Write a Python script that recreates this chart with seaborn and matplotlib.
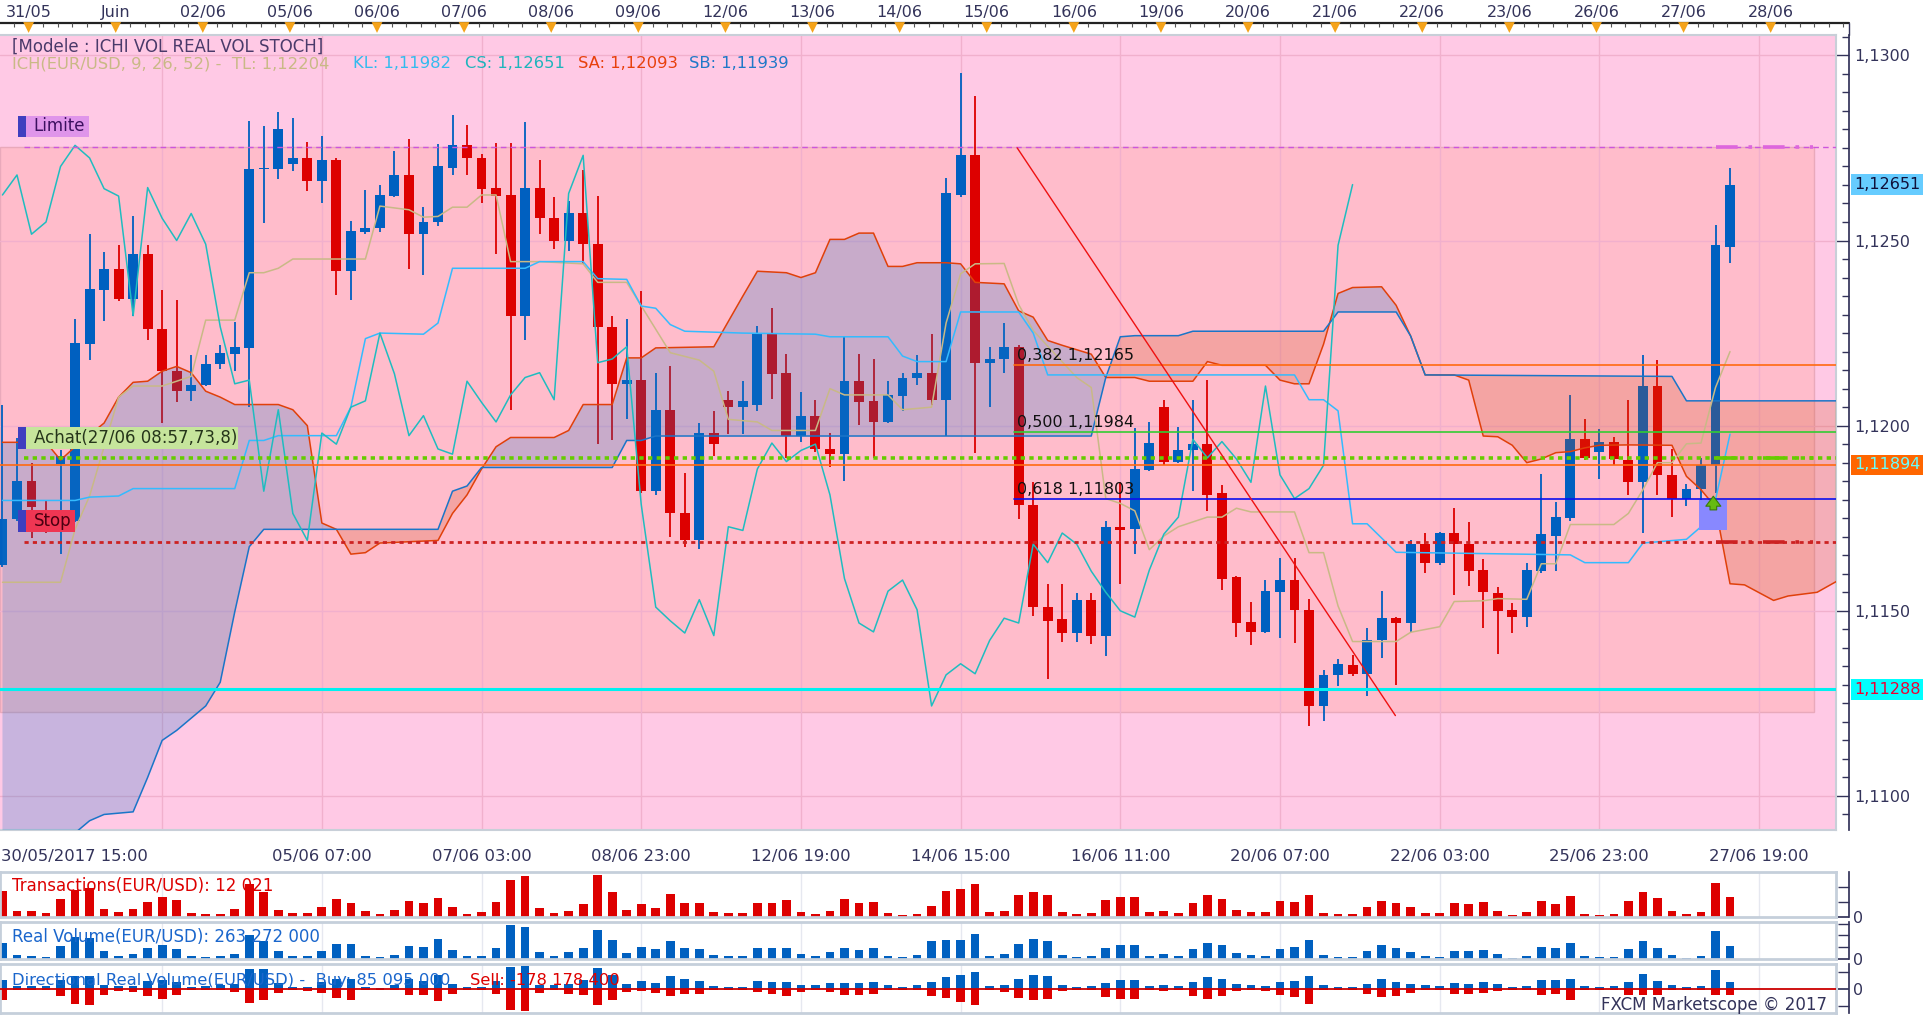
import numpy as np
import matplotlib
matplotlib.use("Agg")
import matplotlib.pyplot as plt
import matplotlib.transforms as mtransforms
from matplotlib.lines import Line2D
from matplotlib.patches import Rectangle
from matplotlib.ticker import MultipleLocator, FuncFormatter, FixedLocator
import seaborn as sns

sns.set_theme(style="white")
plt.rcParams["font.family"] = ["DejaVu Sans"]


# EUR/USD 4h candles, 30/05 15:00 -> 27/06 23:00

opens = [
    1.11623, 1.11747, 1.11850, 1.11720, 1.11897, 1.11743, 1.12220, 1.12367, 1.12423, 1.12343,
    1.12463, 1.12260, 1.12147, 1.12093, 1.12110, 1.12167, 1.12193, 1.12210, 1.12693, 1.12693,
    1.12707, 1.12723, 1.12660, 1.12717, 1.12417, 1.12523, 1.12533, 1.12620, 1.12677, 1.12517,
    1.12550, 1.12697, 1.12757, 1.12723, 1.12643, 1.12623, 1.12297, 1.12643, 1.12560, 1.12500,
    1.12573, 1.12490, 1.12267, 1.12113, 1.12123, 1.11823, 1.12043, 1.11763, 1.11690, 1.11980,
    1.12070, 1.12050, 1.12057, 1.12250, 1.12143, 1.11973, 1.12027, 1.11937, 1.11923, 1.12120,
    1.12067, 1.12010, 1.12080, 1.12130, 1.12143, 1.12070, 1.12623, 1.12730, 1.12170, 1.12180,
    1.12213, 1.11787, 1.11510, 1.11477, 1.11440, 1.11530, 1.11433, 1.11727, 1.11720, 1.11880,
    1.12050, 1.11903, 1.11933, 1.11950, 1.11817, 1.11590, 1.11470, 1.11443, 1.11550, 1.11583,
    1.11503, 1.11243, 1.11327, 1.11353, 1.11330, 1.11420, 1.11480, 1.11467, 1.11680, 1.11630,
    1.11710, 1.11680, 1.11610, 1.11547, 1.11503, 1.11483, 1.11607, 1.11703, 1.11750, 1.11963,
    1.11930, 1.11957, 1.11907, 1.11847, 1.12107, 1.11867, 1.11803, 1.11830, 1.11893, 1.12483,
]
highs = [
    1.12057, 1.11967, 1.11900, 1.11797, 1.11933, 1.12287, 1.12517, 1.12470, 1.12487, 1.12567,
    1.12487, 1.12367, 1.12340, 1.12190, 1.12190, 1.12217, 1.12280, 1.12823, 1.12810, 1.12847,
    1.12830, 1.12767, 1.12783, 1.12723, 1.12553, 1.12637, 1.12650, 1.12743, 1.12773, 1.12590,
    1.12760, 1.12840, 1.12813, 1.12733, 1.12763, 1.12763, 1.12820, 1.12717, 1.12617, 1.12607,
    1.12690, 1.12620, 1.12297, 1.12287, 1.12363, 1.12143, 1.12160, 1.11873, 1.12007, 1.12040,
    1.12093, 1.12120, 1.12270, 1.12317, 1.12193, 1.12090, 1.12070, 1.11980, 1.12243, 1.12193,
    1.12180, 1.12120, 1.12143, 1.12190, 1.12247, 1.12670, 1.12953, 1.12890, 1.12213, 1.12277,
    1.12217, 1.11847, 1.11573, 1.11573, 1.11547, 1.11547, 1.11743, 1.11847, 1.11993, 1.12010,
    1.12070, 1.11997, 1.12070, 1.12123, 1.11840, 1.11593, 1.11523, 1.11583, 1.11643, 1.11643,
    1.11533, 1.11340, 1.11370, 1.11380, 1.11453, 1.11553, 1.11483, 1.11690, 1.11710, 1.11713,
    1.11777, 1.11740, 1.11640, 1.11563, 1.11520, 1.11630, 1.11870, 1.11793, 1.12083, 1.12017,
    1.11990, 1.11970, 1.12070, 1.12190, 1.12177, 1.11937, 1.11843, 1.11913, 1.12543, 1.12697,
]
lows = [
    1.11617, 1.11743, 1.11697, 1.11710, 1.11653, 1.11740, 1.12177, 1.12283, 1.12337, 1.12297,
    1.12230, 1.12007, 1.12063, 1.12067, 1.12107, 1.12153, 1.12147, 1.12050, 1.12547, 1.12667,
    1.12687, 1.12633, 1.12600, 1.12353, 1.12340, 1.12517, 1.12523, 1.12617, 1.12423, 1.12407,
    1.12540, 1.12677, 1.12677, 1.12600, 1.12463, 1.12043, 1.12230, 1.12517, 1.12477, 1.12473,
    1.12437, 1.11950, 1.11960, 1.12017, 1.11817, 1.11813, 1.11700, 1.11673, 1.11667, 1.11917,
    1.11977, 1.11977, 1.12040, 1.12073, 1.11913, 1.11957, 1.11930, 1.11887, 1.11850, 1.12003,
    1.11913, 1.12007, 1.12040, 1.12110, 1.12057, 1.11973, 1.12617, 1.11927, 1.12050, 1.12143,
    1.11747, 1.11487, 1.11317, 1.11417, 1.11417, 1.11410, 1.11377, 1.11573, 1.11653, 1.11877,
    1.11893, 1.11900, 1.11823, 1.11770, 1.11557, 1.11430, 1.11407, 1.11440, 1.11427, 1.11413,
    1.11190, 1.11203, 1.11297, 1.11323, 1.11270, 1.11373, 1.11300, 1.11443, 1.11603, 1.11623,
    1.11543, 1.11567, 1.11453, 1.11383, 1.11440, 1.11457, 1.11603, 1.11607, 1.11743, 1.11907,
    1.11857, 1.11893, 1.11813, 1.11710, 1.11813, 1.11753, 1.11783, 1.11800, 1.11817, 1.12440,
]
closes = [
    1.11747, 1.11850, 1.11780, 1.11713, 1.11917, 1.12223, 1.12370, 1.12423, 1.12343, 1.12463,
    1.12260, 1.12147, 1.12093, 1.12110, 1.12167, 1.12197, 1.12213, 1.12693, 1.12697, 1.12800,
    1.12723, 1.12660, 1.12717, 1.12417, 1.12527, 1.12533, 1.12623, 1.12677, 1.12517, 1.12550,
    1.12700, 1.12757, 1.12723, 1.12640, 1.12620, 1.12297, 1.12643, 1.12560, 1.12500, 1.12573,
    1.12490, 1.12267, 1.12113, 1.12123, 1.11823, 1.12043, 1.11763, 1.11690, 1.11980, 1.11950,
    1.12050, 1.12067, 1.12250, 1.12140, 1.11973, 1.12027, 1.11937, 1.11923, 1.12120, 1.12063,
    1.12010, 1.12083, 1.12130, 1.12143, 1.12070, 1.12627, 1.12730, 1.12170, 1.12180, 1.12213,
    1.11787, 1.11510, 1.11473, 1.11440, 1.11530, 1.11433, 1.11727, 1.11717, 1.11883, 1.11953,
    1.11903, 1.11933, 1.11950, 1.11813, 1.11587, 1.11467, 1.11443, 1.11553, 1.11583, 1.11503,
    1.11243, 1.11327, 1.11357, 1.11330, 1.11420, 1.11480, 1.11467, 1.11680, 1.11630, 1.11710,
    1.11680, 1.11607, 1.11550, 1.11500, 1.11483, 1.11610, 1.11707, 1.11753, 1.11963, 1.11913,
    1.11957, 1.11910, 1.11847, 1.12107, 1.11867, 1.11803, 1.11830, 1.11893, 1.12487, 1.12651,
]

# Ichimoku lines (vertex index, price)
tenkan_x = [0, 4, 5, 6, 7, 8, 9, 11, 13, 14, 16, 17, 18, 19, 20, 25, 26, 28, 29, 30,
            31, 32, 33, 34, 35, 37, 40, 41, 43, 46, 48, 49, 50, 52, 53, 56, 57, 58, 61, 62,
            64, 65, 66, 67, 69, 70, 71, 74, 75, 76, 77, 78, 79, 80, 81, 83, 84, 85, 86, 89,
            90, 91, 92, 93, 96, 97, 99, 100, 102, 103, 105, 106, 107, 108, 111, 112, 113, 114, 115, 116,
            117, 118, 119]
tenkan_y = [1.11577, 1.11577, 1.11720, 1.11810, 1.11943, 1.12077, 1.12107, 1.12107, 1.12133, 1.12285,
            1.12285, 1.12413, 1.12413, 1.12425, 1.12450, 1.12450, 1.12593, 1.12583, 1.12563, 1.12565,
            1.12590, 1.12590, 1.12623, 1.12623, 1.12443, 1.12443, 1.12437, 1.12387, 1.12387, 1.12197,
            1.12177, 1.12147, 1.12017, 1.12010, 1.11987, 1.11987, 1.12100, 1.12083, 1.12083, 1.12043,
            1.12050, 1.12277, 1.12410, 1.12437, 1.12438, 1.12327, 1.12257, 1.12130, 1.12103, 1.11803,
            1.11790, 1.11770, 1.11665, 1.11702, 1.11727, 1.11753, 1.11753, 1.11777, 1.11767, 1.11767,
            1.11657, 1.11657, 1.11513, 1.11417, 1.11417, 1.11442, 1.11457, 1.11525, 1.11527, 1.11533,
            1.11531, 1.11627, 1.11627, 1.11733, 1.11733, 1.11763, 1.11827, 1.11900, 1.11900, 1.11951,
            1.11953, 1.12103, 1.12200]

kijun_x = [0, 5, 6, 8, 9, 16, 17, 18, 19, 23, 24, 25, 26, 29, 30, 31, 36, 37, 40, 41,
           43, 44, 45, 46, 47, 51, 56, 57, 61, 62, 63, 65, 66, 70, 71, 72, 89, 90, 91, 92,
           93, 94, 96, 108, 109, 112, 113, 116, 117, 118, 119]
kijun_y = [1.11798, 1.11798, 1.11807, 1.11810, 1.11830, 1.11830, 1.11960, 1.11960, 1.11973, 1.11973,
           1.12050, 1.12235, 1.12250, 1.12247, 1.12277, 1.12425, 1.12425, 1.12443, 1.12443, 1.12397,
           1.12395, 1.12323, 1.12317, 1.12273, 1.12255, 1.12250, 1.12247, 1.12240, 1.12240, 1.12188,
           1.12173, 1.12173, 1.12307, 1.12307, 1.12250, 1.12137, 1.12137, 1.12070, 1.12070, 1.12040,
           1.11735, 1.11735, 1.11658, 1.11651, 1.11630, 1.11630, 1.11683, 1.11693, 1.11727, 1.11800,
           1.11977]

senkou_a_x = [0, 3, 4, 5, 7, 8, 9, 10, 11, 12, 13, 14, 15, 16, 19, 20, 21, 22, 23, 24,
              25, 26, 30, 31, 32, 33, 34, 35, 38, 39, 40, 42, 43, 44, 45, 49, 51, 52, 54, 55,
              56, 57, 58, 59, 60, 61, 62, 63, 65, 66, 67, 69, 70, 71, 72, 73, 75, 76, 78, 79,
              82, 83, 84, 87, 88, 89, 90, 91, 92, 93, 95, 96, 97, 98, 100, 101, 102, 103, 104, 105,
              106, 107, 108, 109, 110, 112, 115, 116, 117, 118, 119, 120, 122, 123, 125, 126.5]
senkou_a_y = [1.11955, 1.11955, 1.11907, 1.11943, 1.12007, 1.12077, 1.12117, 1.12120, 1.12147, 1.12160,
              1.12143, 1.12093, 1.12077, 1.12057, 1.12057, 1.12043, 1.12000, 1.11737, 1.11720, 1.11653,
              1.11657, 1.11683, 1.11690, 1.11763, 1.11813, 1.11883, 1.11943, 1.11968, 1.11968, 1.11987,
              1.12057, 1.12057, 1.12183, 1.12183, 1.12210, 1.12213, 1.12350, 1.12417, 1.12413, 1.12400,
              1.12413, 1.12503, 1.12503, 1.12520, 1.12520, 1.12430, 1.12430, 1.12440, 1.12440, 1.12437,
              1.12387, 1.12383, 1.12310, 1.12293, 1.12230, 1.12217, 1.12193, 1.12130, 1.12130, 1.12120,
              1.12120, 1.12173, 1.12163, 1.12163, 1.12123, 1.12113, 1.12113, 1.12220, 1.12357, 1.12373,
              1.12375, 1.12325, 1.12242, 1.12137, 1.12137, 1.12123, 1.11972, 1.11970, 1.11947, 1.11900,
              1.11910, 1.11927, 1.11930, 1.11940, 1.11947, 1.11948, 1.11947, 1.11863, 1.11827, 1.11780,
              1.11573, 1.11570, 1.11528, 1.11540, 1.11550, 1.11583]

senkou_b_x = [0, 4, 5, 6, 7, 9, 10, 11, 12, 14, 15, 16, 17, 18, 30, 31, 32, 33, 42, 43,
              44, 45, 75, 76, 77, 78, 81, 82, 91, 92, 96, 97, 98, 115, 116, 126.5]
senkou_b_y = [1.10850, 1.10850, 1.10900, 1.10933, 1.10950, 1.10957, 1.11050, 1.11150, 1.11177, 1.11243,
              1.11307, 1.11497, 1.11673, 1.11720, 1.11720, 1.11823, 1.11837, 1.11887, 1.11887, 1.11960,
              1.11960, 1.11972, 1.11972, 1.12130, 1.12240, 1.12243, 1.12243, 1.12255, 1.12255, 1.12307,
              1.12307, 1.12242, 1.12137, 1.12133, 1.12067, 1.12067]

# volume panels
transactions = [
    15400, 3400, 3400, 2200, 10600, 16000, 17400, 4600, 2800, 4600,
    8800, 11800, 10000, 2200, 1600, 1600, 4600, 19600, 14800, 4000,
    2200, 2200, 5800, 10600, 8200, 3400, 1600, 4000, 9400, 8200,
    11200, 5800, 1600, 2800, 8800, 22000, 24400, 5200, 2200, 3400,
    7600, 25000, 14800, 4000, 7600, 5200, 13600, 8200, 8200, 2800,
    2200, 2200, 8200, 8200, 10000, 2800, 1600, 3400, 10600, 8200,
    8800, 2200, 1000, 1600, 6400, 15400, 16600, 20000, 3200, 3800,
    13400, 15200, 13400, 3200, 2000, 2600, 10400, 12200, 12200, 3200,
    3800, 2600, 8600, 13400, 11000, 4400, 3200, 3200, 9800, 9200,
    13400, 2600, 2000, 2000, 6200, 9800, 8600, 6200, 2600, 2600,
    8600, 8000, 9200, 3800, 1400, 3200, 9800, 8000, 12800, 2000,
    1400, 2000, 9800, 15200, 11600, 3800, 2000, 3200, 20600, 12021,
]
real_volume_m = [
    336, 84, 63, 42, 273, 462, 441, 168, 63, 105,
    231, 294, 210, 63, 42, 63, 105, 504, 378, 168,
    63, 63, 168, 315, 315, 63, 42, 84, 273, 252,
    420, 189, 63, 63, 231, 714, 672, 147, 63, 147,
    231, 609, 399, 126, 252, 210, 378, 231, 210, 84,
    63, 63, 231, 231, 231, 105, 63, 147, 231, 189,
    231, 63, 42, 84, 378, 399, 399, 525, 63, 105,
    315, 420, 378, 84, 42, 63, 231, 294, 294, 63,
    105, 63, 210, 336, 294, 126, 84, 63, 210, 252,
    399, 84, 42, 42, 168, 294, 231, 147, 63, 42,
    168, 168, 189, 105, 21, 63, 252, 231, 336, 63,
    42, 42, 210, 378, 231, 84, 21, 63, 588, 263,
]
buy_volume_m = [
    112, 32, 32, 32, 112, 160, 152, 52, 32, 40,
    96, 112, 88, 24, 32, 44, 56, 244, 240, 72,
    28, 28, 88, 120, 120, 28, 16, 44, 120, 96,
    168, 64, 28, 28, 100, 264, 272, 48, 44, 56,
    108, 252, 168, 64, 100, 76, 160, 116, 96, 40,
    28, 28, 100, 80, 88, 44, 44, 68, 76, 68,
    80, 48, 28, 48, 88, 148, 164, 200, 32, 44,
    124, 164, 152, 44, 20, 32, 76, 104, 104, 32,
    44, 32, 80, 140, 124, 64, 44, 32, 80, 92,
    156, 44, 20, 20, 56, 124, 80, 56, 44, 32,
    68, 56, 80, 56, 20, 32, 104, 104, 116, 32,
    20, 32, 80, 176, 92, 44, 20, 32, 224, 80,
]
sell_volume_m = [
    -128, -16, -16, -8, -88, -180, -196, -68, -28, -32,
    -88, -116, -72, -8, -12, -8, -32, -172, -132, -48,
    -12, -20, -44, -112, -128, -16, -8, -16, -68, -68,
    -140, -56, -16, -16, -64, -256, -268, -52, -16, -60,
    -76, -196, -136, -40, -20, -52, -88, -64, -64, -16,
    -16, -16, -40, -64, -88, -32, -16, -32, -72, -76,
    -64, -16, -16, -16, -80, -108, -156, -196, -16, -40,
    -112, -136, -120, -28, -8, -16, -96, -116, -120, -16,
    -28, -16, -88, -124, -88, -28, -16, -28, -76, -100,
    -184, -16, -16, -8, -64, -100, -88, -52, -16, -8,
    -64, -64, -52, -28, -8, -16, -76, -64, -136, -16,
    -8, -8, -76, -76, -76, -16, -8, -8, -76, -76,
]

# levels / drawings
limit_level = 1.12753
entry_level = 1.11913
stop_level = 1.11687
price_level = 1.11894
support_level = 1.11288
zone_low = 1.11227
fib_ratios = ["0,382", "0,500", "0,618"]
fib_levels = [1.12165, 1.11984, 1.11803]
fib_colors = ["#ff6a10", "#33cc33", "#0a10ee"]
trend_x = [69.9, 95.95]
trend_y = [1.12750, 1.11217]

day_labels = ["31/05", "Juin", "02/06", "05/06", "06/06", "07/06", "08/06", "09/06",
              "12/06", "13/06", "14/06", "15/06", "16/06", "19/06", "20/06", "21/06",
              "22/06", "23/06", "26/06", "27/06", "28/06"]
time_labels = ["30/05/2017 15:00", "05/06 07:00", "07/06 03:00", "08/06 23:00",
               "12/06 19:00", "14/06 15:00", "16/06 11:00", "20/06 07:00",
               "22/06 03:00", "25/06 23:00", "27/06 19:00"]


opens = np.array(opens)
highs = np.array(highs)
lows = np.array(lows)
closes = np.array(closes)
idx = np.arange(len(closes))

W, H = 1925, 1016
PR = 1836
XL = (-0.17, 126.3)
NAVY = "#33335a"
grid_idx = np.arange(11, 126, 11)


def box(x0, y0, x1, y1):
    return [x0 / W, 1 - y1 / H, (x1 - x0) / W, (y1 - y0) / H]


def comma(v, _=None):
    return f"{v:.4f}".replace(".", ",")


def comma5(v):
    return f"{v:.5f}".replace(".", ",")


fig = plt.figure(figsize=(W / 100, H / 100), dpi=100)
fig.patch.set_facecolor("white")


# ---------------- main price chart ----------------

ax = fig.add_axes(box(0, 35, PR, 830))
ax.set_xlim(*XL)
ax.set_ylim(1.10908, 1.13055)
ax.set_facecolor("#ffc9e5")
ax.set_xticks([])
ax.set_yticks([])
ax.spines["left"].set_visible(False)
for s in ["top", "bottom", "right"]:
    ax.spines[s].set_color("#c8cfd8")
    ax.spines[s].set_linewidth(1.5)

ax.add_patch(Rectangle((XL[0], zone_low), 124.8 - XL[0], limit_level - zone_low,
                       fc="#ffbccb", ec="#e9a9bb", lw=1, zorder=0.5))

for g in grid_idx:
    ax.axvline(g, color="#f1b0cd", lw=1, zorder=0.6)
for p in [1.110, 1.115, 1.120, 1.125, 1.130]:
    ax.axhline(p, color="#f1b0cd", lw=1, zorder=0.6)

# candles
bull = closes >= opens
ccol = np.where(bull, "#0060c0", "#dd0000")
ax.vlines(idx, lows, highs, colors=ccol, lw=1.3, zorder=3)
body_lo = np.minimum(opens, closes)
body_h = np.maximum(np.abs(closes - opens), 0.00004)
ax.bar(idx, body_h, bottom=body_lo, width=0.68, color=ccol, lw=0, zorder=3.1)

# cloud
cx = np.union1d(senkou_a_x, senkou_b_x)
ca = np.interp(cx, senkou_a_x, senkou_a_y)
cb = np.interp(cx, senkou_b_x, senkou_b_y)
ax.fill_between(cx, ca, cb, where=ca >= cb, interpolate=True,
                color="#1a75c8", alpha=0.24, lw=0, zorder=4)
ax.fill_between(cx, ca, cb, where=ca < cb, interpolate=True,
                color="#ce4b11", alpha=0.21, lw=0, zorder=4)

line_kw = dict(ax=ax, estimator=None, sort=False, lw=1.1, zorder=5)
sns.lineplot(x=senkou_a_x, y=senkou_a_y, color="#e0400a", **line_kw)
sns.lineplot(x=senkou_b_x, y=senkou_b_y, color="#1a75c8", **line_kw)
sns.lineplot(x=tenkan_x, y=tenkan_y, color="#c9b986", **line_kw)
sns.lineplot(x=kijun_x, y=kijun_y, color="#33bbff", **line_kw)
sns.lineplot(x=idx[26:] - 26, y=closes[26:], color="#1fbcc0", **line_kw)

# horizontal levels
ax.plot([1.5, XL[1]], [limit_level] * 2, color="#cc55dd", lw=1, ls=(0, (4, 3)), zorder=6)
ax.plot([118, 124.7], [limit_level] * 2, color="#dd66dd", lw=2.6, ls=(0, (6, 3, 1, 3)), zorder=6)
ax.plot([1.5, XL[1]], [entry_level] * 2, color="#66cc00", lw=2.6, ls=(0, (1.2, 1.2)), zorder=6)
ax.plot([118, 124.7], [entry_level] * 2, color="#66cc00", lw=2.6, ls=(0, (6, 3, 1, 3)), zorder=6)
ax.plot([1.5, XL[1]], [stop_level] * 2, color="#cc2222", lw=2, ls=(0, (1.5, 1.5)), zorder=6)
ax.plot([118, 124.7], [stop_level] * 2, color="#cc2222", lw=2.6, ls=(0, (6, 3, 1, 3)), zorder=6)
ax.axhline(price_level, color="#ff6a10", lw=1.2, zorder=6)
ax.axhline(support_level, color="#00f0f0", lw=2.2, zorder=6)

for r, lv, c in zip(fib_ratios, fib_levels, fib_colors):
    ax.plot([69.7, XL[1]], [lv, lv], color=c, lw=1.2, zorder=6)
    ax.text(69.9, lv + 0.00004, r + " " + comma5(lv),
            fontsize=11.5, color="#111111", ha="left", va="bottom", zorder=8)

ax.plot(trend_x, trend_y, color="#ee1111", lw=1, zorder=6)

# entry marker
ax.add_patch(Rectangle((116.85, 1.11717), 1.95, 0.00083, fc="#8888ff", ec="none", zorder=7))
ax.annotate("", xy=(117.85, 1.11817), xytext=(117.85, 1.11765),
            arrowprops=dict(arrowstyle="simple,head_width=0.9,head_length=0.6,tail_width=0.4",
                            fc="#66bb11", ec="#3a7a08", lw=0.8), zorder=8)

# order labels
for y_lo, y_hi, x_hi, fc, tc, lab in [
    (1.12780, 1.12837, 5.95, "#df95ea", "#3c1060", "Limite"),
    (1.11937, 1.11997, 16.2, "#c6e59c", "#25351a", "Achat(27/06 08:57,73,8)"),
    (1.11713, 1.11773, 5.0, "#ef3653", "#4a0010", "Stop"),
]:
    ax.add_patch(Rectangle((1.1, y_lo), 0.52, y_hi - y_lo, fc="#3f3fbf", ec="none", zorder=9))
    ax.add_patch(Rectangle((1.62, y_lo), x_hi - 1.62, y_hi - y_lo, fc=fc, ec="none", zorder=9))
    ax.text(2.15, (y_lo + y_hi) / 2, lab, fontsize=12, color=tc, ha="left", va="center", zorder=10)

# header
ax.text(12 / PR, 1 - 12 / 795, "[Modele : ICHI VOL REAL VOL STOCH]", transform=ax.transAxes,
        fontsize=12, color="#4a3a6a", ha="left", va="center", zorder=10)
for xp, txt, c in [(12, "ICH(EUR/USD, 9, 26, 52) -  TL: 1,12204", "#c9b986"),
                   (353, "KL: 1,11982", "#33bbee"),
                   (465, "CS: 1,12651", "#1fb4bc"),
                   (578, "SA: 1,12093", "#e8400c"),
                   (689, "SB: 1,11939", "#1f78c8")]:
    ax.text(xp / PR, 1 - 29 / 795, txt, transform=ax.transAxes, fontsize=11.8,
            color=c, ha="left", va="center", zorder=10)

# right price axis
sec = ax.secondary_yaxis(1.007)
sec.yaxis.set_major_locator(MultipleLocator(0.005))
sec.yaxis.set_minor_locator(MultipleLocator(0.0005))
sec.yaxis.set_major_formatter(FuncFormatter(comma))
sec.tick_params(axis="y", which="major", direction="in", length=10, width=1,
                colors=NAVY, labelsize=11.5, pad=4)
sec.tick_params(axis="y", which="minor", direction="in", length=5, width=1, colors=NAVY)
sec.spines["right"].set_color(NAVY)

rtrans = mtransforms.blended_transform_factory(fig.transFigure, ax.transData)
for val, fc, tc in [(1.12651, "#66ccff", "#10103a"),
                    (price_level, "#ff6600", "#66ffff"),
                    (support_level, "#00ffff", "#ee0033")]:
    ax.text(1854 / W, val, comma5(val), transform=rtrans,
            ha="left", va="center", fontsize=11.5, color=tc, clip_on=False, zorder=10,
            bbox=dict(boxstyle="square,pad=0.18", fc=fc, ec="none"))

# bottom time labels
btrans = mtransforms.blended_transform_factory(ax.transData, fig.transFigure)
ax.text(XL[0] + 0.05, 1 - 857 / H, time_labels[0], transform=btrans, ha="left",
        va="center", fontsize=11.8, color=NAVY)
for g, lab in zip(grid_idx[1:], time_labels[1:]):
    ax.text(g, 1 - 857 / H, lab, transform=btrans, ha="center", va="center",
            fontsize=11.8, color=NAVY)


# ---------------- top date strip ----------------

top = fig.add_axes(box(0, 0, PR, 35))
top.set_xlim(*XL)
top.set_ylim(35, 0)
top.axis("off")
top.plot([XL[0], 127.2], [23, 23], color="#222222", lw=1.6, clip_on=False)
top.vlines(np.arange(0, 127) + 0.8, 23, 27, color="#555555", lw=0.8, clip_on=False)
day_x = 1.8 + 6 * np.arange(len(day_labels))
top.scatter(day_x, np.full(len(day_x), 27.5), marker="v", s=60, color="#f5a31a",
            edgecolors="none", zorder=3)
for x, lab in zip(day_x, day_labels):
    top.text(x, 12.5, lab, ha="center", va="center", fontsize=11.5, color=NAVY)
fig.add_artist(Line2D([1849 / W] * 2, [1 - 23 / H, 1 - 35 / H], color=NAVY, lw=1))


# ---------------- volume panels ----------------

def panel(y0, y1, ylim, ticks):
    p = fig.add_axes(box(0, y0, PR, y1))
    p.set_xlim(*XL)
    p.set_ylim(*ylim)
    p.set_facecolor("white")
    p.set_xticks([])
    p.set_yticks([])
    for s in p.spines.values():
        s.set_color("#c5cfdb")
        s.set_linewidth(2)
    for g in grid_idx:
        p.axvline(g, color="#e6e8f0", lw=1, zorder=0)
    s2 = p.secondary_yaxis(1.007)
    s2.yaxis.set_major_locator(FixedLocator([0]))
    s2.yaxis.set_major_formatter(FuncFormatter(lambda v, _: "0"))
    s2.yaxis.set_minor_locator(FixedLocator(ticks))
    s2.tick_params(axis="y", which="both", direction="in", length=8, colors=NAVY,
                   labelsize=11.5, pad=3)
    s2.spines["right"].set_color(NAVY)
    return p


p1 = panel(872, 917, (0, 27000), [9000, 18000])
p1.bar(idx, transactions, width=0.6, color="#dd0000", lw=0, zorder=2)
p1.text(12 / PR, 0.69, "Transactions(EUR/USD): 12 021", transform=p1.transAxes,
        fontsize=12, color="#dd0000", ha="left", va="center", zorder=5)

p2 = panel(922, 959, (0, 770), [245, 490, 735])
p2.bar(idx, real_volume_m, width=0.6, color="#0060c0", lw=0, zorder=2)
p2.text(12 / PR, 0.6, "Real Volume(EUR/USD): 263 272 000", transform=p2.transAxes,
        fontsize=12, color="#1a66cc", ha="left", va="center", zorder=5)

p3 = panel(964, 1013, (-288, 300), [-200, 200])
p3.bar(idx, buy_volume_m, width=0.6, color="#0060c0", lw=0, zorder=2)
p3.bar(idx, sell_volume_m, width=0.6, color="#dd0000", lw=0, zorder=2)
p3.axhline(0, color="#cc0000", lw=1.3, zorder=3)
p3.text(12 / PR, 0.67, "Directional Real Volume(EUR/USD) -  Buy: 85 095 000",
        transform=p3.transAxes, fontsize=11.8, color="#1a66cc", ha="left", va="center", zorder=5)
p3.text(470 / PR, 0.67, "Sell: -178 178 400", transform=p3.transAxes,
        fontsize=11.8, color="#dd0000", ha="left", va="center", zorder=5)
p3.text(0.995, 0.17, "FXCM Marketscope \u00a9 2017", transform=p3.transAxes,
        fontsize=12, color=NAVY, ha="right", va="center", zorder=5)


fig.savefig("out.png", dpi=100)
plt.close(fig)
